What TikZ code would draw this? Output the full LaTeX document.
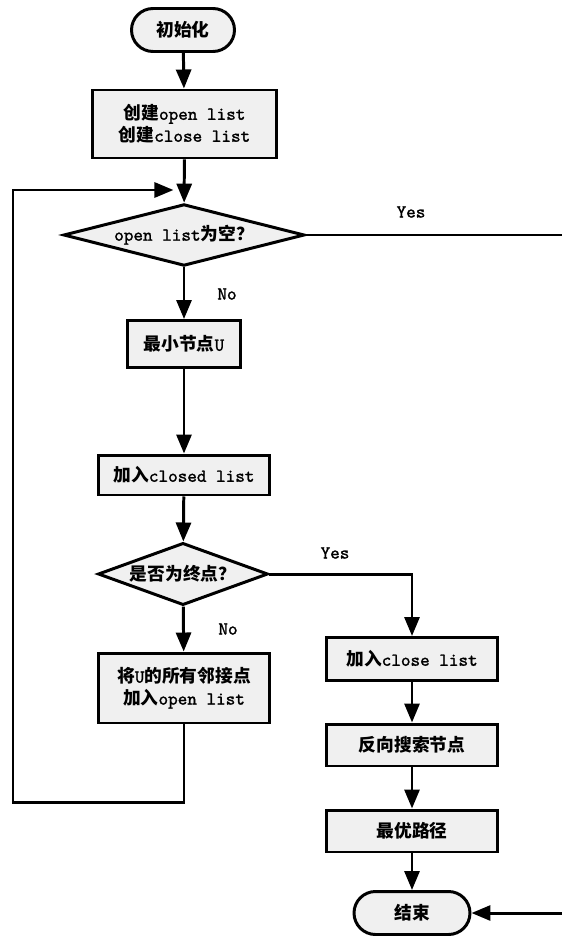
\documentclass[tikz,border=0pt]{standalone}
\usepackage{fontspec}
\setmainfont{Latin Modern Mono}[FakeBold=1.4]
\newfontfamily\cjk[Scale=0.97]{Noto Sans CJK SC}
\usetikzlibrary{arrows.meta,shapes.geometric}
\newcommand\zh[1]{{\cjk\bfseries #1}}
\tikzset{
	txt/.style={font=\fontsize{10.4}{12.5}\selectfont},
	box/.style={txt, draw, line width=1.7pt, fill=black!6, align=center, minimum width=3.44cm, minimum height=0.86cm, inner sep=2pt},
	term/.style={box, rounded corners=0.43cm},
	decision/.style={txt, draw, line width=1.7pt, fill=black!6, diamond, inner sep=0pt},
	flow/.style={line width=1.7pt, -{Triangle[length=0.38cm, width=0.3cm]}},
	wire/.style={line width=1.7pt}
}

\begin{document}
\begin{tikzpicture}[x=0.02cm, y=-0.02cm]
		%%%%% START %%%%%
		\useasboundingbox (0, 0) rectangle (561, 936);
		
		\node[term, minimum width=2.06cm] (init) at (183, 30) {\zh{初始化}};
		\node[box, minimum width=3.7cm, minimum height=1.36cm] (create) at (184.5, 124) {\zh{创建}open list\\\zh{创建}close list};
		
		\node[decision, aspect=3.3, minimum width=4.82cm] (empty) at (184, 235) {open list\zh{为空？}};
		\node[box, minimum width=2.28cm, minimum height=0.94cm] (minU) at (184, 344) {\zh{最小节点}U};
		\node[box, minimum height=0.8cm] (closed) at (184, 475) {\zh{加入}closed list};
		\node[decision, aspect=2.35, minimum width=3.4cm] (goal) at (183, 574) {\zh{是否为终点？}};
		\node[box, minimum height=1.4cm] (adj) at (184, 688) {\zh{将}U\zh{的所有邻接点}\\\zh{加入}open list};
		
		\node[box] (addclose) at (412, 659) {\zh{加入}close list};
		\node[box, minimum height=0.84cm] (back) at (412, 745) {\zh{反向搜索节点}};
		\node[box, minimum height=0.84cm] (best) at (412, 831) {\zh{最优路径}};
		\node[term, minimum width=2.32cm] (end) at (412, 913) {\zh{结束}};
		
		\node[txt] (yes1) at (411, 212) {Yes};
		\node[txt] (no1) at (227, 294) {No};
		\node[txt] (yes2) at (335, 553) {Yes};
		\node[txt] (no2) at (228, 629) {No};
		
		\coordinate (join) at (184, 190);
		\coordinate (loopA) at (184, 802);
		\coordinate (loopB) at (13, 802);
		\coordinate (loopC) at (13, 190);
		\coordinate (yesR) at (567, 235);
		
		\draw[flow] (init) -- (create);
		\draw[flow] (create) -- (empty);
		\draw[flow] (empty) -- (minU);
		\draw[flow] (minU) -- (closed);
		\draw[flow] (closed) -- (goal);
		\draw[flow] (goal) -- (adj);
		\draw[flow] (goal) -| (addclose);
		\draw[flow] (addclose) -- (back);
		\draw[flow] (back) -- (best);
		\draw[flow] (best) -- (end);
		
		\draw[flow, shorten >=6pt] (adj) -- (loopA) -- (loopB) -- (loopC) -- (join);
		\draw[flow] (empty) -- (yesR) -- (yesR |- end) -- (end);
		%%%%% END %%%%%
\end{tikzpicture}
\end{document}
